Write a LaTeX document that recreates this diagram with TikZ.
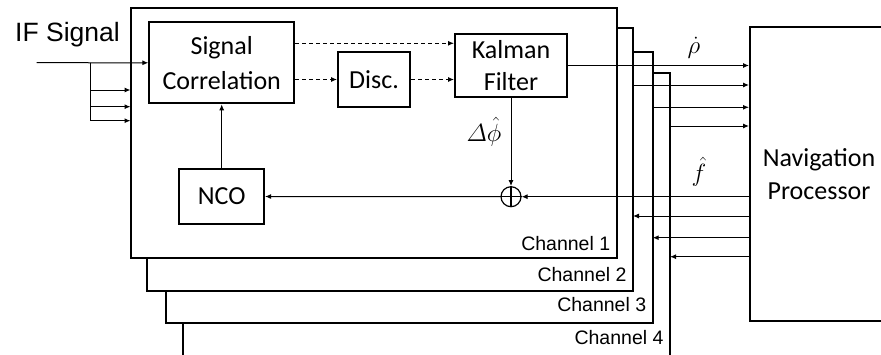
\documentclass[tikz,border=0pt]{standalone}
\usepackage{amsmath}
\usepackage{fontspec}
\setmainfont{Carlito}
\newfontfamily\trkarial{Liberation Sans}
\usetikzlibrary{arrows.meta}
\definecolor{trkInk}{HTML}{000000}
\tikzset{
  trk block/.style={draw=trkInk, line width=2pt, fill=white, align=center, inner sep=0pt, font=\fontsize{26}{32}\selectfont},
  trk channel/.style={draw=trkInk, line width=2pt, fill=white, anchor=north west, inner sep=0pt, outer sep=0pt},
  trk link/.style={draw=trkInk, line width=1pt, -{Latex[length=6pt,width=5pt]}},
  trk dashed/.style={trk link, dash pattern=on 4pt off 3pt},
  trk sum/.style={circle, draw=trkInk, line width=1.2pt, fill=white, minimum size=20pt, inner sep=0pt},
  trk label/.style={font=\trkarial\fontsize{19.5}{22}\selectfont, text=trkInk},
  trk math/.style={font=\fontsize{24}{28}\selectfont, text=trkInk},
}
\begin{document}
\begin{tikzpicture}[x=1pt, y=-1pt]
  \useasboundingbox (0,0) rectangle (881,354);
  % Channel frames, back to front, each with its name in the lower right
  \foreach \n/\l/\t/\r/\b/\s in {4/182.7/73.3/670/380/344, 3/166/52.3/652.7/322.7/311.7,
                                   2/146.7/28.3/633/290.7/281.7, 1/130.5/8/616.7/258.3/250} {
    \node[trk channel, minimum width={(\r-\l)*1pt}, minimum height={(\b-\t)*1pt}] (ch\n) at (\l,\t) {};
    \node[trk label, anchor=base east] (lab\n) at (\r-3,\s) {Channel \n};
  }
  % Tracking loop blocks
  \node[trk block, minimum width=144.7pt, minimum height=81pt, font=\fontsize{26}{35}\selectfont] (sc) at (221.7,62.8) {Signal\\Correlation};
  \node[trk block, minimum width=72pt, minimum height=55pt] (disc) at (374,79.5) {Disc.};
  \node[trk block, minimum width=112pt, minimum height=63pt] (kf) at (511,65.5) {Kalman\\Filter};
  \node[trk block, minimum width=84.7pt, minimum height=55pt] (nco) at (221.7,196.5) {NCO};
  \node[trk sum] (sum) at (511,196.7) {};
  \draw[trkInk, line width=1.2pt] (sum.north) -- (sum.south) (sum.west) -- (sum.east);
  \node[trk block, minimum width=138pt, minimum height=293.7pt, font=\fontsize{26}{33}\selectfont] (nav) at (819,174.2) {Navigation\\Processor};
  % Input signal and its branches to the other channels
  \node[anchor=base west, font=\trkarial\fontsize{26.5}{30}\selectfont] (ifsig) at (11.7,41.7) {IF Signal};
  \coordinate (ifin) at (36.7,62.7);
  \coordinate (split) at (90,62.7);
  \draw[trk link] (ifin) -- (sc.west);
  \foreach \y in {90,106.7,120.7} \draw[trk link] (split) |- (ch1.west |- 0,\y);
  % Discriminator path
  \draw[trk dashed] (sc.east |- 0,43.3) -- (kf.west |- 0,43.3);
  \draw[trk dashed] (sc.east |- disc.west) -- (disc.west);
  \draw[trk dashed] (disc.east) -- (kf.west |- disc.east);
  % Feedback loop
  \draw[trk link] (kf.south) -- (sum.north);
  \node[trk math] (dphi) at (484,132) {$\varDelta\hat{\phi}$};
  \draw[trk link] (nav.west |- sum) -- (sum.east);
  \draw[trk link] (sum.west) -- (nco.east);
  \draw[trk link] (nco.north) -- (sc.south);
  \node[trk math] (fhat) at (699,172) {$\hat{f}$};
  % Measurements to the navigation processor
  \draw[trk link] (kf.east) -- (nav.west |- kf.east);
  \node[trk math] (rhodot) at (694,48) {$\dot{\rho}$};
  \foreach \n/\y in {2/85,3/107.3,4/126} \draw[trk link] (ch\n.east |- 0,\y) -- (nav.west |- 0,\y);
  \foreach \n/\y in {2/216,3/237.7,4/256.7} \draw[trk link] (nav.west |- 0,\y) -- (ch\n.east |- 0,\y);
\end{tikzpicture}
\end{document}
